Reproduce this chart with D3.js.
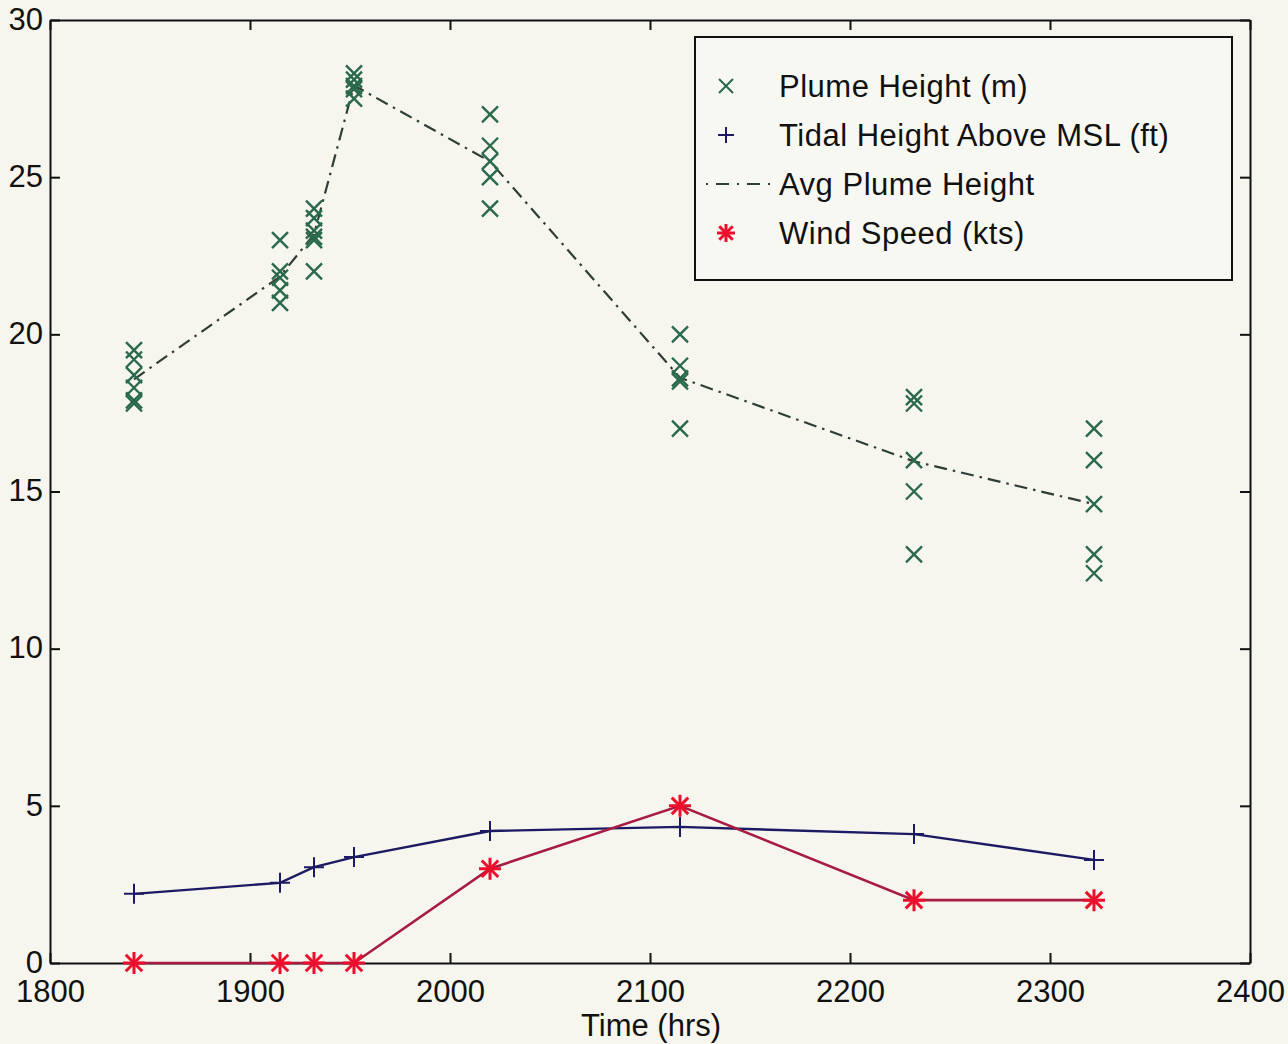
<!DOCTYPE html>
<html>
<head>
<meta charset="utf-8">
<script src="https://cdn.jsdelivr.net/npm/d3@7"></script>
<style>
  html, body { margin: 0; padding: 0; background: #f6f6ee; }
  svg { display: block; }
  text { font-family: "Liberation Sans", Arial, Helvetica, sans-serif; fill: #111; }
</style>
</head>
<body>
<svg id="chart" width="1288" height="1044"></svg>
<script>
// Observation times (hhmm clock readings)
const times = [1842, 1915, 1932, 1952, 2020, 2115, 2232, 2322];

// Individual plume height readings (m) at each time
const plumeReadings = [
  [19.5, 19.2, 18.7, 18.3, 17.9, 17.8],
  [23.0, 22.0, 21.8, 21.4, 21.0],
  [24.0, 23.7, 23.3, 23.1, 23.0, 22.0],
  [28.3, 28.1, 27.9, 27.8, 27.5],
  [27.0, 26.0, 25.5, 25.0, 24.0],
  [20.0, 19.0, 18.6, 18.5, 17.0],
  [18.0, 17.8, 16.0, 15.0, 13.0],
  [17.0, 16.0, 14.6, 13.0, 12.4]
];

// Average plume height (m)
const avgPlume = [18.57, 21.84, 23.18, 27.92, 25.5, 18.62, 15.96, 14.6];

// Tidal height above MSL (ft)
const tidal = [2.2, 2.55, 3.05, 3.37, 4.2, 4.33, 4.1, 3.28];

// Wind speed (kts)
const wind = [0, 0, 0, 0, 3, 5, 2, 2];

const xTicks = [1800, 1900, 2000, 2100, 2200, 2300, 2400];
const yTicks = [0, 5, 10, 15, 20, 25, 30];

const legendLabels = ["Plume Height (m)", "Tidal Height Above MSL (ft)", "Avg Plume Height", "Wind Speed (kts)"];

const svg = d3.select("#chart");
const plotLeft = 50, plotRight = 1250, plotTop = 20, plotBottom = 963;

const x = d3.scaleLinear().domain([1800, 2400]).range([plotLeft, plotRight]);
const y = d3.scaleLinear().domain([0, 30]).range([plotBottom, plotTop]);

const plumeColor = "#2a694a";
const avgColor = "#2e3d36";
const tidalColor = "#1c1a62";
const windLine = "#a81c42";
const windMark = "#ec0f2c";
const fontSize = 31;

svg.append("rect").attr("width", 1288).attr("height", 1044).attr("fill", "#f6f6ee");

// Axes: bottom/left carry labels, top/right are plain frames with inward ticks
const tickLen = 10;
const axB = d3.axisBottom(x).tickValues(xTicks).tickSize(-tickLen).tickSizeOuter(0).tickPadding(17).tickFormat(d3.format("d"));
const axL = d3.axisLeft(y).tickValues(yTicks).tickSize(-tickLen).tickSizeOuter(0).tickPadding(7).tickFormat(d3.format("d"));
const axT = d3.axisTop(x).tickValues(xTicks).tickSize(-tickLen).tickSizeOuter(0).tickFormat("");
const axR = d3.axisRight(y).tickValues(yTicks).tickSize(-tickLen).tickSizeOuter(0).tickFormat("");

function styleAxis(g) {
  g.select(".domain").attr("stroke", "#111").attr("stroke-width", 2);
  g.selectAll(".tick line").attr("stroke", "#111").attr("stroke-width", 2);
  g.selectAll(".tick text").attr("font-size", fontSize).attr("fill", "#111")
    .style("font-family", "'Liberation Sans', Arial, sans-serif");
}
svg.append("g").attr("transform", `translate(0,${plotBottom})`).call(axB).call(styleAxis)
  .selectAll(".tick text").attr("dy", "0.71em");
svg.append("g").attr("transform", `translate(${plotLeft},0)`).call(axL).call(styleAxis)
  .selectAll(".tick text").attr("dy", "0.3em");
svg.append("g").attr("transform", `translate(0,${plotTop})`).call(axT).call(styleAxis);
svg.append("g").attr("transform", `translate(${plotRight},0)`).call(axR).call(styleAxis);

// Marker shapes
function xMark(g, cx, cy, s, color, w) {
  g.append("path").attr("d", `M${cx - s},${cy - s}L${cx + s},${cy + s}M${cx - s},${cy + s}L${cx + s},${cy - s}`)
    .attr("stroke", color).attr("stroke-width", w).attr("fill", "none");
}
function plusMark(g, cx, cy, s, color, w) {
  g.append("path").attr("d", `M${cx - s},${cy}L${cx + s},${cy}M${cx},${cy - s}L${cx},${cy + s}`)
    .attr("stroke", color).attr("stroke-width", w).attr("fill", "none");
}
function starMark(g, cx, cy, s, color, w) {
  xMark(g, cx, cy, s * 0.75, color, w);
  plusMark(g, cx, cy, s, color, w);
}

const plot = svg.append("g");
const line = d3.line().x(d => x(d[0])).y(d => y(d[1]));

// Average plume height (dash-dot)
plot.append("path").datum(times.map((t, i) => [t, avgPlume[i]]))
  .attr("d", line).attr("fill", "none").attr("stroke", avgColor).attr("stroke-width", 2.2)
  .attr("stroke-dasharray", "13,6,2.5,6");

// Plume readings
times.forEach((t, i) => {
  plumeReadings[i].forEach(v => xMark(plot, x(t), y(v), 8, plumeColor, 2.4));
});

// Tidal height
plot.append("path").datum(times.map((t, i) => [t, tidal[i]]))
  .attr("d", line).attr("fill", "none").attr("stroke", tidalColor).attr("stroke-width", 2.4);
times.forEach((t, i) => plusMark(plot, x(t), y(tidal[i]), 10, tidalColor, 2));

// Wind speed
plot.append("path").datum(times.map((t, i) => [t, wind[i]]))
  .attr("d", line).attr("fill", "none").attr("stroke", windLine).attr("stroke-width", 2.6);
times.forEach((t, i) => starMark(plot, x(t), y(wind[i]), 11, windMark, 3));

// Axis title
svg.append("text").attr("x", 651).attr("y", 1036).attr("text-anchor", "middle")
  .attr("font-size", fontSize).text("Time (hrs)");

// Legend
const lg = svg.append("g");
lg.append("rect").attr("x", 695).attr("y", 37).attr("width", 537).attr("height", 243)
  .attr("fill", "#f8f8f2").attr("stroke", "#111").attr("stroke-width", 2);
const rows = [86, 135, 184, 233];
xMark(lg, 726, rows[0], 7, plumeColor, 2);
plusMark(lg, 726, rows[1], 8, tidalColor, 2);
lg.append("line").attr("x1", 706).attr("x2", 770).attr("y1", rows[2]).attr("y2", rows[2])
  .attr("stroke", avgColor).attr("stroke-width", 2).attr("stroke-dasharray", "2,8,13,8");
starMark(lg, 726, rows[3], 9, windMark, 3);
legendLabels.forEach((s, i) => {
  lg.append("text").attr("x", 779).attr("y", rows[i]).attr("dy", "0.36em")
    .attr("font-size", fontSize).attr("letter-spacing", 0.5).text(s);
});
</script>
</body>
</html>
